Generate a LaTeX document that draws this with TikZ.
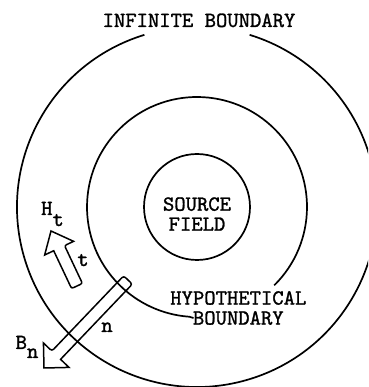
\documentclass[tikz,border=0pt]{standalone}
\usepackage{fontspec}
\newfontfamily\twfont{lmmono10-regular}[Extension=.otf, FakeBold=1.2]
\usetikzlibrary{calc}
\begin{document}
\begin{tikzpicture}[x=1pt,y=1pt,
  ring/.style={line width=1.7pt},
  blockarrow/.style={line width=1.5pt, line join=miter},
  lbl/.style={font=\twfont\fontsize{21.6}{20}\selectfont, inner sep=0pt}]
\useasboundingbox (0,0) rectangle (368,387);
\clip (0,0) rectangle (368,387);
\coordinate (O) at (197,180);
% source field
\draw[ring] (O) circle[radius=53];
\node[lbl, align=center] (src) at (197,173) {SOURCE\\FIELD};
% infinite boundary
\draw[ring] ($(O)+(107:180)$) arc[start angle=107, end angle=433, radius=180];
\node[lbl, anchor=base] (inf) at (199,360) {INFINITE BOUNDARY};
% hypothetical boundary
\node[lbl, align=center] (hb) at (238.3,79) {HYPOTHETICAL\\BOUNDARY};
\coordinate (hbL) at (193.5,69);
\draw[ring] ($(O)+(-45.4:110)$) arc[start angle=-45.4, end angle=266, radius=110] -- (hbL);
% H_t arrow
\coordinate (hT) at (51,156);
\coordinate (hC) at (77,101);
\coordinate (hH) at ($(hT)!19pt!(hC)$);
\draw[blockarrow] (hT) -- ($(hH)!16pt!90:(hT)$) -- ($(hH)!6pt!90:(hT)$)
  [rounded corners=2pt] -- ($(hC)!6pt!90:(hT)$) -- ($(hC)!6pt!-90:(hT)$)
  -- ($(hH)!6pt!-90:(hT)$) [sharp corners] -- ($(hH)!16pt!-90:(hT)$) -- cycle;
% B_n arrow
\coordinate (bT) at (44,19);
\coordinate (bC) at (128,107);
\coordinate (bH) at ($(bT)!17.7pt!(bC)$);
\draw[blockarrow] (bT) -- ($(bH)!17.7pt!90:(bT)$) -- ($(bH)!6pt!90:(bT)$)
  [rounded corners=2.5pt] -- ($(bC)!6pt!90:(bT)$) -- ($(bC)!6pt!-90:(bT)$)
  -- ($(bH)!6pt!-90:(bT)$) [sharp corners] -- ($(bH)!17.7pt!-90:(bT)$) -- cycle;
% labels
\node[lbl, anchor=base] (Ht) at (52.5,172) {H\raisebox{-11pt}{t}};
\node[lbl, anchor=base] (Bn) at (27,38) {B\raisebox{-9pt}{n}};
\node[lbl, anchor=base] (tl) at (83,121) {t};
\node[lbl, anchor=base] (nl) at (107,55) {n};
\end{tikzpicture}
\end{document}
